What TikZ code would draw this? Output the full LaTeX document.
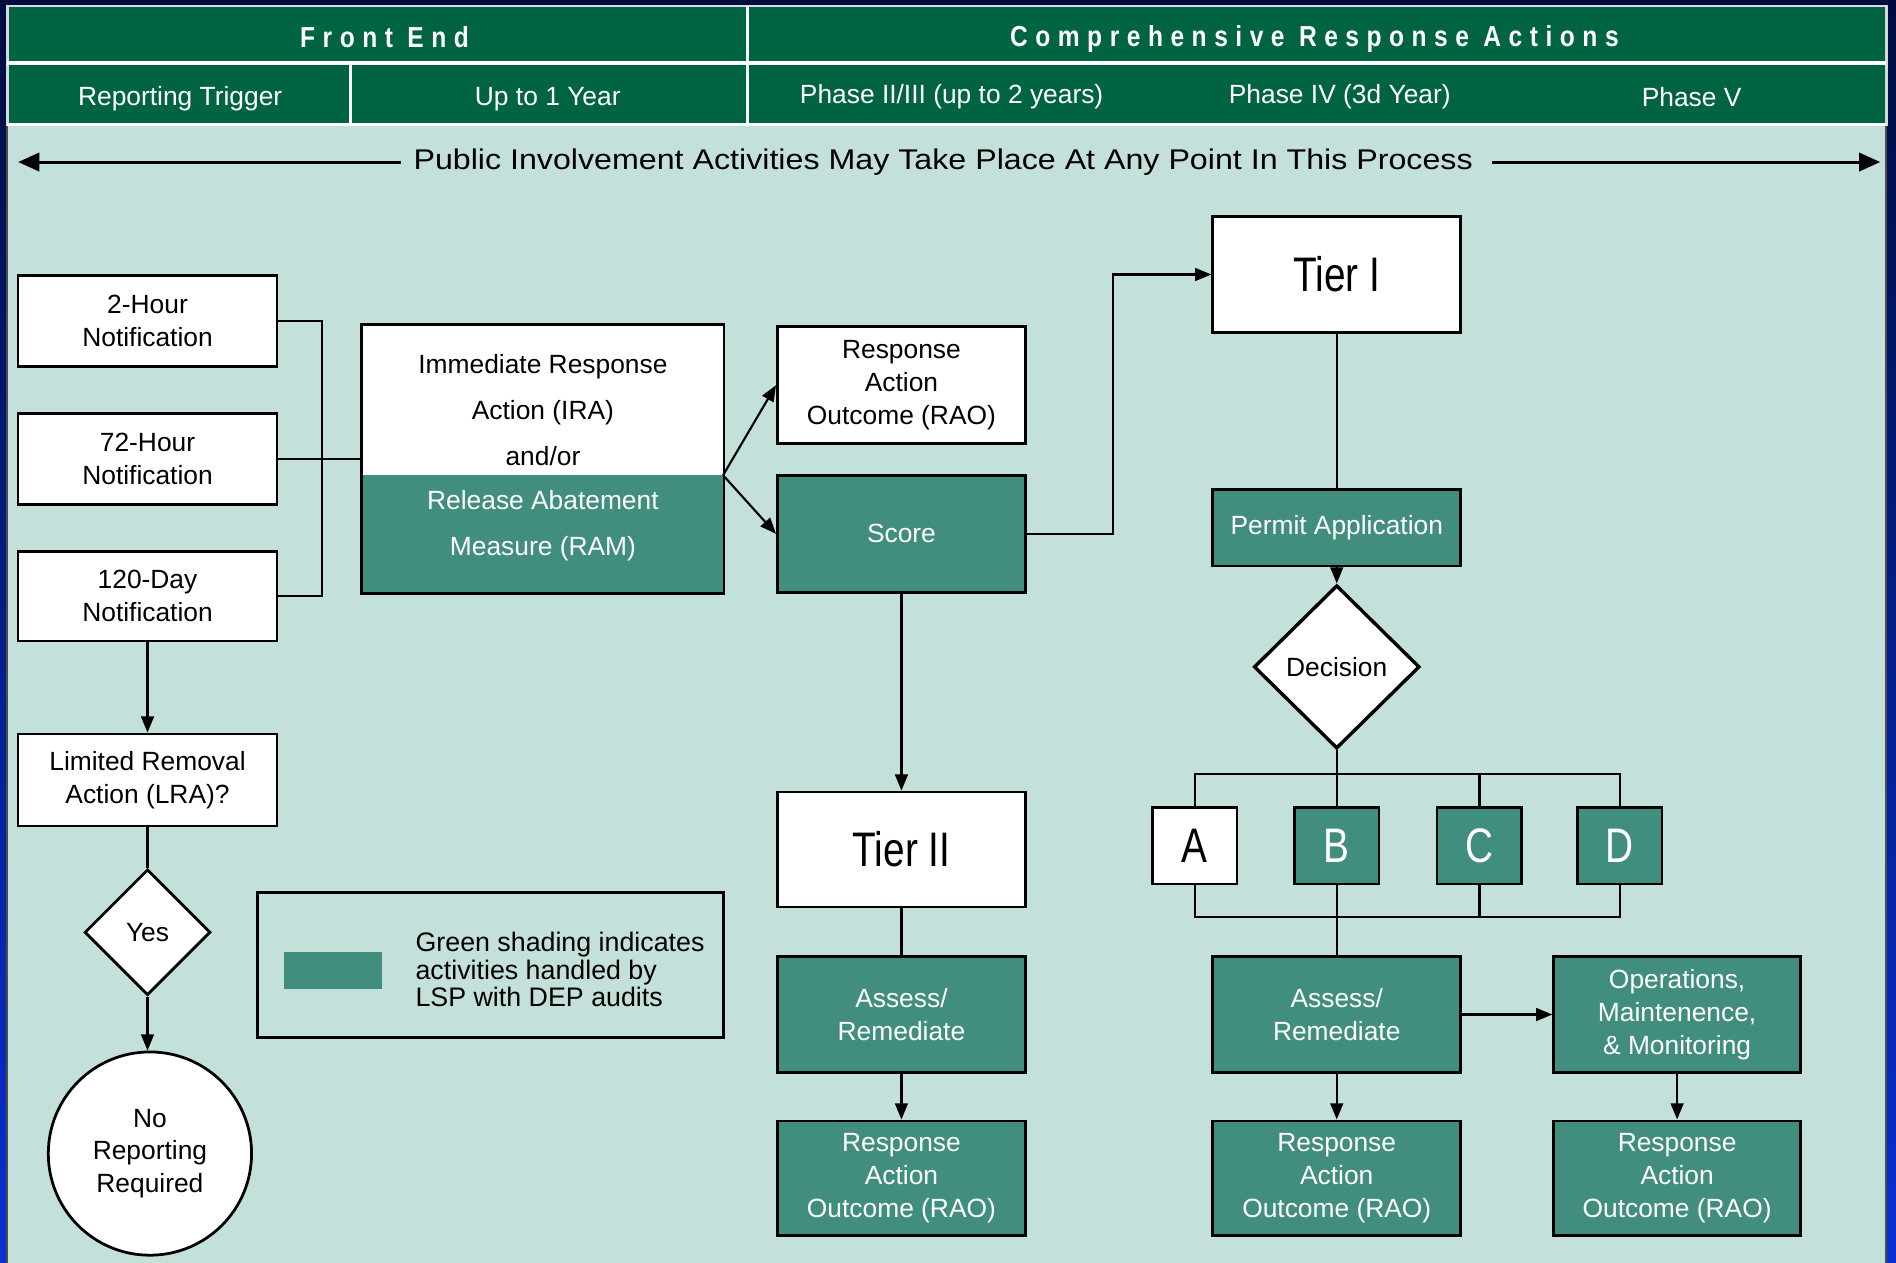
\documentclass[tikz,border=0pt]{standalone}
\usepackage{fontspec}
\setmainfont{Liberation Sans}
\newfontfamily\widefont[FakeStretch=1.13]{Liberation Sans}
\newfontfamily\tierfont[FakeStretch=0.8]{Liberation Sans}
\newfontfamily\hdrfont[FakeStretch=0.85, LetterSpace=26]{Liberation Sans}
\usetikzlibrary{shapes.geometric, arrows.meta}

\definecolor{navy}{RGB}{0,12,62}
\definecolor{slideblue}{RGB}{8,48,212}
\definecolor{mint}{RGB}{196,224,218}
\definecolor{hdrgreen}{RGB}{0,99,65}
\definecolor{boxgreen}{RGB}{65,142,126}

\newcommand{\boxfont}{\fontsize{6.2}{7.7}\selectfont}

\tikzset{
    boxline/.style={draw=black, line width=0.65pt},
    whitebox/.style={rectangle, boxline, fill=white, text=black, align=center, inner sep=0pt, font=\boxfont},
    greenbox/.style={rectangle, boxline, fill=boxgreen, text=white, align=center, inner sep=0pt, font=\boxfont},
    conn/.style={line width=0.5pt},
    arr/.style={conn, -{Triangle[length=3.8pt,width=3pt]}},
    bigarr/.style={line width=0.7pt, -{Triangle[length=5pt,width=4.3pt]}},
    hdrtext/.style={text=white, font=\boxfont},
    titletext/.style={text=white, font={\hdrfont\bfseries\fontsize{6.8}{8}\selectfont}}
}

\begin{document}
\begin{tikzpicture}[x=0.01cm, y=-0.01cm]
    \useasboundingbox (0,0) rectangle (1568,1044);

    % Slide background and panel
    \shade[top color=navy, bottom color=slideblue] (0,0) rectangle (1568,1044);
    \filldraw[fill=mint, draw=black!70, line width=0.5pt] (6,5) rectangle (1560,1060);

    % Header rows
    \filldraw[fill=hdrgreen, draw=white!85!black, line width=0.6pt] (6,5) rectangle (1560,103);
    \draw[white, line width=0.8pt] (6,52) -- (1560,52);
    \draw[white, line width=0.8pt] (6,103) -- (1560,103);
    \draw[white, line width=0.8pt] (618,5) -- (618,103);
    \draw[white, line width=0.8pt] (290,52) -- (290,103);

    \node[titletext] (frontend) at (318,31) {Front End};
    \node[titletext] (comprehensive) at (1087,32) {Comprehensive Response Actions};
    \node[hdrtext] (trigger) at (149,82) {Reporting Trigger};
    \node[hdrtext] (upto) at (453,82) {Up to 1 Year};
    \node[hdrtext] (phasetwo) at (787,80) {Phase II/III (up to 2 years)};
    \node[hdrtext] (phasefour) at (1108,80) {Phase IV (3d Year)};
    \node[hdrtext] (phasefive) at (1399,80) {Phase V};

    % Public involvement arrows
    \node[inner sep=2.8pt, font={\widefont\fontsize{6.7}{8}\selectfont}] (public) at (780,134) {Public Involvement Activities May Take Place At Any Point In This Process};
    \coordinate (leftend) at (15,134);
    \coordinate (rightend) at (1555,134);
    \draw[bigarr] (public.west) -- (leftend);
    \draw[bigarr] ([xshift=0.05cm]public.east) -- (rightend);

    % Reporting trigger column
    \node[whitebox, minimum width=2.14cm, minimum height=0.75cm] (twohour) at (122,265.5) {2-Hour\\Notification};
    \node[whitebox, minimum width=2.14cm, minimum height=0.75cm] (seventytwo) at (122,379.5) {72-Hour\\Notification};
    \node[whitebox, minimum width=2.14cm, minimum height=0.74cm] (onetwenty) at (122,493) {120-Day\\Notification};
    \node[whitebox, minimum width=2.14cm, minimum height=0.76cm] (lra) at (122,645) {Limited Removal\\Action (LRA)?};
    \node[diamond, boxline, fill=white, minimum width=1.04cm, minimum height=1.04cm, inner sep=0pt, font=\boxfont] (yes) at (122,771) {Yes};
    \node[circle, boxline, fill=white, minimum size=1.68cm, inner sep=0pt, align=center, font=\boxfont] (noreport) at (124,954) {No\\Reporting\\Required};

    \draw[conn] (twohour.east) -- ++(36,0) |- (onetwenty.east);
    \draw[arr] (onetwenty) -- (lra);
    \draw[conn] (lra) -- (yes);
    \draw[arr] (yes.south) -- (yes.south |- noreport.north);

    % Immediate response box, half white and half green
    \node[rectangle, fill=white, minimum width=2.98cm, minimum height=2.21cm] (ira) at (449,379.5) {};
    \fill[boxgreen] (300,393) rectangle (598,490);
    \draw[boxline] (ira.south west) rectangle (ira.north east);
    \node[align=center, font={\fontsize{6.2}{10.8}\selectfont}] (iratext) at (449,339) {Immediate Response\\Action (IRA)\\and/or};
    \node[align=center, text=white, font={\fontsize{6.2}{10.8}\selectfont}] (ramtext) at (449,435) {Release Abatement\\Measure (RAM)};
    \draw[conn] (seventytwo.east) -- (ira.west);
    \coordinate (irasplit) at (598,393);

    % Legend
    \node[rectangle, boxline, minimum width=3.85cm, minimum height=1.2cm] (legend) at (405.5,798) {};
    \fill[boxgreen] (235,787) rectangle (316,818);
    \node[anchor=west, align=left, inner sep=0pt, font={\fontsize{6.3}{6.5}\selectfont}] (legendtext) at (343,802) {Green shading indicates\\activities handled by\\LSP with DEP audits};

    % Phase II/III column
    \node[whitebox, minimum width=2.05cm, minimum height=0.97cm] (raoone) at (745.5,318.5) {Response\\Action\\Outcome (RAO)};
    \node[greenbox, minimum width=2.05cm, minimum height=0.97cm] (score) at (745.5,441.5) {Score};
    \node[whitebox, minimum width=2.05cm, minimum height=0.95cm, font={\tierfont\fontsize{11.4}{12}\selectfont}] (tiertwo) at (745.5,702.5) {Tier II};
    \node[greenbox, minimum width=2.05cm, minimum height=0.96cm] (assessone) at (745.5,839) {Assess/\\Remediate};
    \node[greenbox, minimum width=2.05cm, minimum height=0.95cm] (raotwo) at (745.5,974.5) {Response\\Action\\Outcome (RAO)};

    \draw[arr] (irasplit) -- (raoone.west);
    \draw[arr] (irasplit) -- (score.west);
    \draw[arr] (score) -- (tiertwo);
    \draw[conn] (tiertwo) -- (assessone);
    \draw[arr] (assessone) -- (raotwo);

    % Phase IV column
    \node[whitebox, minimum width=2.05cm, minimum height=0.96cm, font={\tierfont\fontsize{11.4}{12}\selectfont}] (tierone) at (1105.5,227) {Tier I};
    \node[greenbox, minimum width=2.05cm, minimum height=0.63cm] (permit) at (1105.5,436.5) {Permit Application};
    \node[diamond, boxline, line width=0.8pt, fill=white, minimum width=1.37cm, minimum height=1.35cm, inner sep=0pt, font=\boxfont] (decision) at (1105.5,551.5) {Decision};

    \draw[arr] (score.east) -- ++(71,0) |- (tierone.west);
    \draw[conn] (tierone) -- (permit);
    \draw[arr] (permit) -- (decision);

    % Options A to D
    \foreach \lbl/\x/\fc/\tc in {A/988/white/black, B/1105.5/boxgreen/white, C/1223.5/boxgreen/white, D/1339.5/boxgreen/white}
        \node[greenbox, fill=\fc, text=\tc, minimum width=0.7cm, minimum height=0.63cm, font={\tierfont\fontsize{11.4}{12}\selectfont}] (opt\lbl) at (\x,699.5) {\lbl};

    \coordinate (topbus) at (1105.5,640);
    \coordinate (botbus) at (1105.5,758);
    \draw[conn] (decision.south) -- (topbus);
    \draw[conn] (optA.north) |- (topbus) -| (optD.north);
    \draw[conn] (optB.north) -- (topbus);
    \draw[conn] (optC.north) -- (optC.north |- topbus);
    \draw[conn] (optA.south) |- (botbus) -| (optD.south);
    \draw[conn] (optC.south) -- (optC.south |- botbus);

    \node[greenbox, minimum width=2.05cm, minimum height=0.96cm] (assesstwo) at (1105.5,839) {Assess/\\Remediate};
    \node[greenbox, minimum width=2.05cm, minimum height=0.95cm] (raothree) at (1105.5,974.5) {Response\\Action\\Outcome (RAO)};
    \draw[conn] (optB.south) -- (assesstwo.north);
    \draw[arr] (assesstwo) -- (raothree);

    % Phase V column
    \node[greenbox, minimum width=2.04cm, minimum height=0.96cm] (omm) at (1387,839) {Operations,\\Maintenence,\\\& Monitoring};
    \node[greenbox, minimum width=2.04cm, minimum height=0.95cm] (raofour) at (1387,974.5) {Response\\Action\\Outcome (RAO)};
    \draw[arr] (assesstwo) -- (omm);
    \draw[arr] (omm) -- (raofour);

\end{tikzpicture}
\end{document}
